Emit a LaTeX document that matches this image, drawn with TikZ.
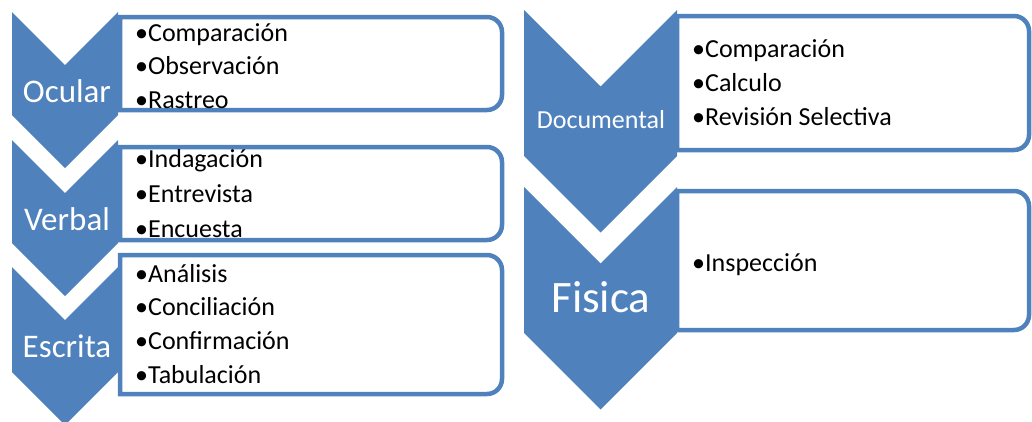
\documentclass[tikz,border=0pt]{standalone}
\usepackage{fontspec}
\setmainfont{Carlito}
\usepackage{tikz}
\usetikzlibrary{positioning}

\definecolor{azul}{RGB}{79,129,189}

% caja con esquinas derechas redondeadas: x1,y1,x2,y2
\newcommand{\caja}[4]{%
  \filldraw[caja] (#1,#2) -- ({#3-15},#2) arc (-90:0:15) -- (#3,{#4-15}) arc (0:90:15) -- (#1,#4) -- cycle;}

\tikzset{
  chev/.style={fill=azul},
  caja/.style={draw=azul, fill=white, line width=4.5pt},
  item/.style={anchor=base west, inner sep=0pt, font=\fontsize{26}{30}\selectfont},
  etiq/.style={anchor=base, inner sep=0pt, text=white, font=\fontsize{33}{36}\selectfont}
}

\begin{document}
\begin{tikzpicture}[x=1pt, y=-1pt]
    \useasboundingbox (0,0) rectangle (1032,421);
    % cajas de la lista
    \caja{120}{17}{502}{110}
    \caja{120}{147}{502}{240}
    \caja{120}{255}{502}{394}
    \caja{677}{16}{1029}{150}
    \caja{677}{191}{1029}{330}
    % chevrones
    \foreach \y/\h in {12/103, 140/103, 267/105}
        \fill[chev] (12,\y) -- ++(53,53) -- ++(53,-53) -- ++(0,\h) -- ++(-53,53) -- ++(-53,-53) -- cycle;
    \foreach \y in {10, 187}
        \fill[chev] (524,\y) -- ++(76.5,76.5) -- ++(76.5,-76.5) -- ++(0,146) -- ++(-76.5,76.5) -- ++(-76.5,-76.5) -- cycle;
    % etiquetas
    \node[etiq] (ocular) at (67,102) {Ocular};
    \node[etiq] (verbal) at (67,230) {Verbal};
    \node[etiq] (escrita) at (67,357) {Escrita};
    \node[etiq, font=\fontsize{26}{30}\selectfont] (documental) at (601,128) {Documental};
    \node[etiq, font=\fontsize{45}{50}\selectfont] (fisica) at (601,312) {Fisica};
    % elementos
    \foreach \t [count=\i] in {Comparación, Observación, Rastreo}
        \node[item] (ocu\i) at (135,{41+33.5*(\i-1)}) {•\t};
    \foreach \t [count=\i] in {Indagación, Entrevista, Encuesta}
        \node[item] (ver\i) at (135,{167+35*(\i-1)}) {•\t};
    \foreach \t [count=\i] in {Análisis, Conciliación, Confirmación, Tabulación}
        \node[item] (esc\i) at (135,{282+33.7*(\i-1)}) {•\t};
    \foreach \t [count=\i] in {Comparación, Calculo, Revisión Selectiva}
        \node[item] (doc\i) at (692,{57+34*(\i-1)}) {•\t};
    \node[item] (fis1) at (692,271) {•Inspección};
\end{tikzpicture}
\end{document}
